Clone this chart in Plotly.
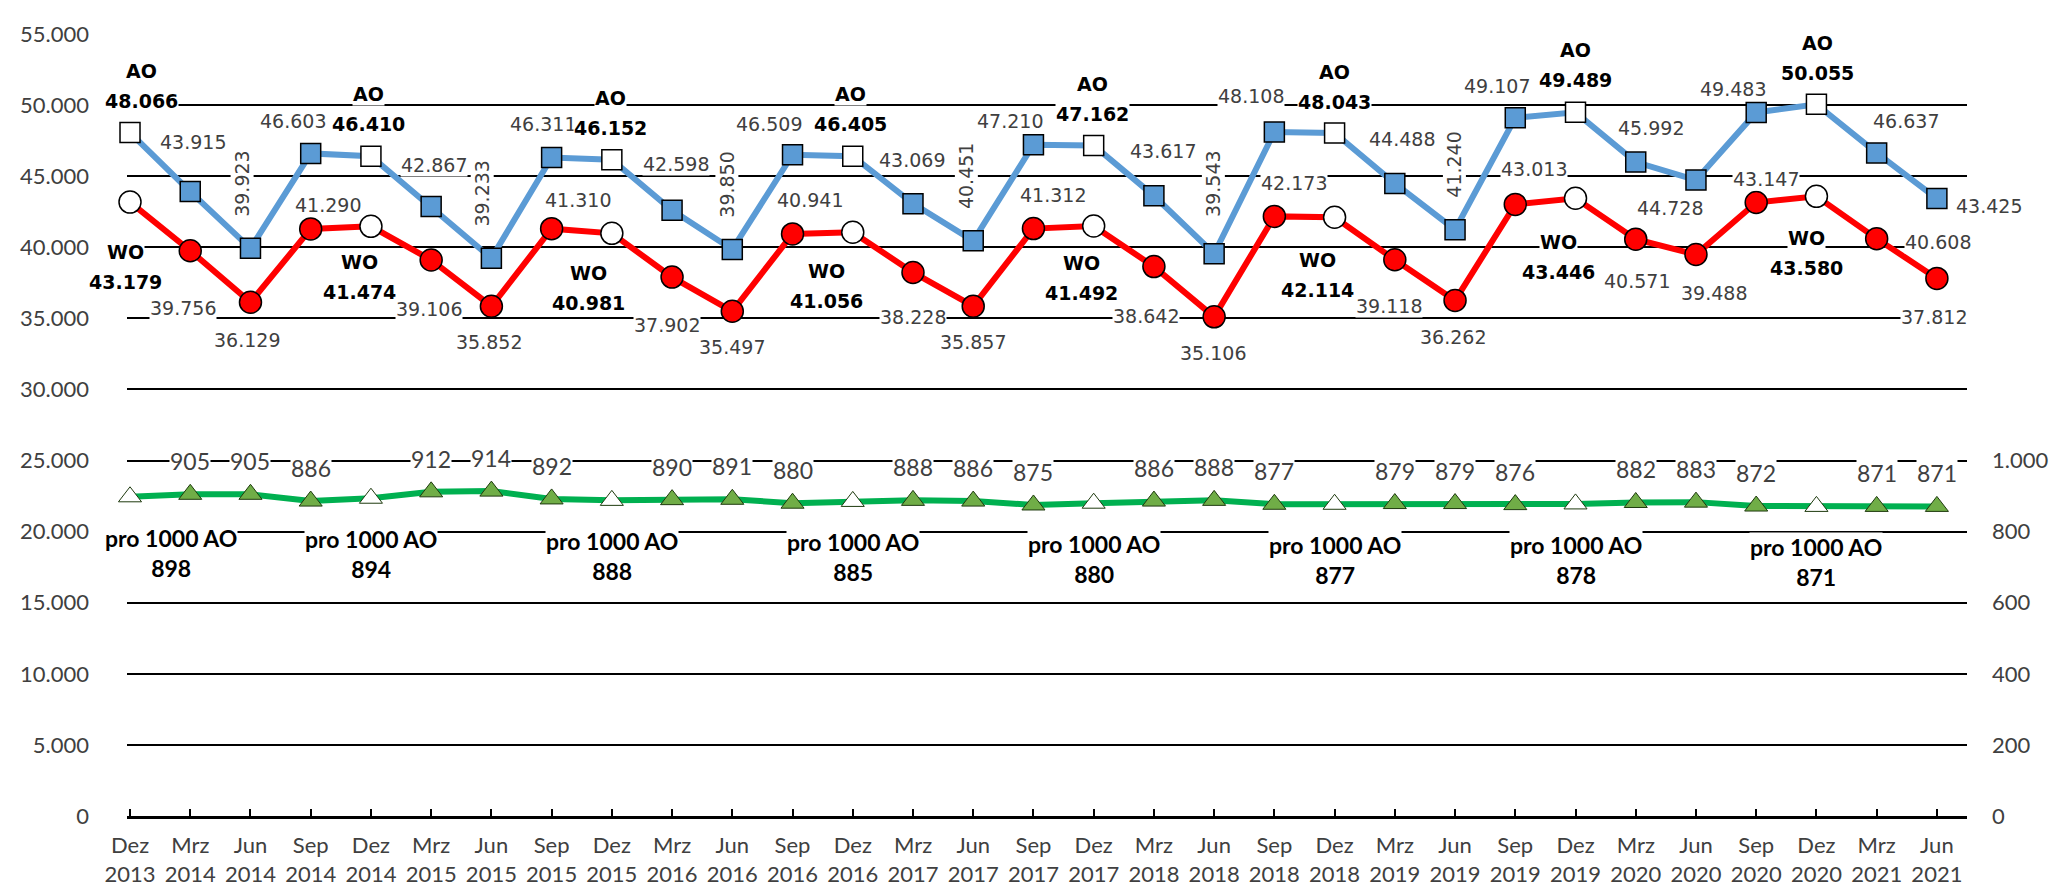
import plotly.graph_objects as go

# ---------------- data ----------------
quarters = ["Dez 2013", "Mrz 2014", "Jun 2014", "Sep 2014", "Dez 2014", "Mrz 2015", "Jun 2015",
            "Sep 2015", "Dez 2015", "Mrz 2016", "Jun 2016", "Sep 2016", "Dez 2016", "Mrz 2017",
            "Jun 2017", "Sep 2017", "Dez 2017", "Mrz 2018", "Jun 2018", "Sep 2018", "Dez 2018",
            "Mrz 2019", "Jun 2019", "Sep 2019", "Dez 2019", "Mrz 2020", "Jun 2020", "Sep 2020",
            "Dez 2020", "Mrz 2021", "Jun 2021"]

ao = [48066, 43915, 39923, 46603, 46410, 42867, 39233, 46311, 46152, 42598, 39850, 46509,
      46405, 43069, 40451, 47210, 47162, 43617, 39543, 48108, 48043, 44488, 41240, 49107,
      49489, 45992, 44728, 49483, 50055, 46637, 43425]

wo = [43179, 39756, 36129, 41290, 41474, 39106, 35852, 41310, 40981, 37902, 35497, 40941,
      41056, 38228, 35857, 41312, 41492, 38642, 35106, 42173, 42114, 39118, 36262, 43013,
      43446, 40571, 39488, 43147, 43580, 40608, 37812]

pro1000 = [898, 905, 905, 886, 894, 912, 914, 892, 888, 890, 891, 880, 885, 888, 886, 875,
           880, 886, 888, 877, 877, 879, 879, 876, 878, 882, 883, 872, 871, 871, 871]

left_ticks = [0, 5000, 10000, 15000, 20000, 25000, 30000, 35000, 40000, 45000, 50000, 55000]
right_ticks = [0, 200, 400, 600, 800, 1000]

# ---------------- label placement (pixel offsets dx, dy; dy positive = down) ----------------
ao_off = [(11, -47), (3, -50), (-8, -65), (-18, -32), (-2, -47), (3, -42), (-9, -65),
          (-9, -34), (-1, -47), (4, -46), (-5, -65), (-24, -31), (-2, -47), (-1, -44),
          (-7, -65), (-23, -24), (-1, -46), (9, -45), (-1, -70), (-23, -36), (0, -46),
          (7, -44), (-1, -65), (-18, -32), (0, -47), (15, -34), (-26, 28), (-23, -23),
          (1, -46), (29, -32), (52, 7)]
ao_rot = {2, 6, 10, 14, 18, 22}

wo_off = [(-5, 65), (-7, 57), (-3, 38), (17, -24), (-11, 51), (-2, 49), (-2, 36),
          (26, -29), (-23, 55), (-5, 48), (0, 36), (17, -34), (-26, 54), (0, 45),
          (0, 36), (20, -34), (-12, 52), (-8, 49), (-1, 36), (20, -33), (-17, 58),
          (-6, 46), (-2, 37), (19, -35), (-17, 59), (1, 42), (18, 38), (10, -24),
          (-10, 57), (61, 3), (-3, 39)]

LINE_GAP = 15  # half distance between the two lines of a bold Dez label

BLUE = "#5B9BD5"
RED = "#FF0000"
GREEN_LINE = "#00B050"
GREEN_FILL = "#70AD47"
LABEL_GRAY = "#404040"


def fmt(v):
    return f"{v:,}".replace(",", ".")


def is_dez(q):
    return q.startswith("Dez")


fig = go.Figure()

ao_fill = ["white" if is_dez(q) else BLUE for q in quarters]
wo_fill = ["white" if is_dez(q) else RED for q in quarters]
gr_fill = ["white" if is_dez(q) else GREEN_FILL for q in quarters]

fig.add_trace(go.Scatter(
    x=quarters, y=ao, mode="lines+markers", name="AO",
    line=dict(color=BLUE, width=6),
    marker=dict(symbol="square", size=20, color=ao_fill, line=dict(color="black", width=1.5)),
    cliponaxis=False))

fig.add_trace(go.Scatter(
    x=quarters, y=wo, mode="lines+markers", name="WO",
    line=dict(color=RED, width=6),
    marker=dict(symbol="circle", size=22, color=wo_fill, line=dict(color="black", width=1.5)),
    cliponaxis=False))

fig.add_trace(go.Scatter(
    x=quarters, y=pro1000, mode="lines+markers", name="pro 1000 AO", yaxis="y2",
    line=dict(color=GREEN_LINE, width=6),
    marker=dict(symbol="triangle-up", size=20, color=gr_fill, line=dict(color="#1E3A0E", width=1)),
    cliponaxis=False))

ann = []
DL_FONT = "DejaVu Sans"
CAL_FONT = "Lato"


def add_label(q, v, yref, dx, dy, txt, col, family, size, angle=0):
    ann.append(dict(x=q, y=v, xref="x", yref=yref, text=txt, showarrow=False,
                    xshift=dx, yshift=-dy, textangle=angle,
                    font=dict(family=family, size=size, color=col),
                    bgcolor="white", borderpad=0))


for series, name, offs in ((ao, "AO", ao_off), (wo, "WO", wo_off)):
    for i, q in enumerate(quarters):
        dx, dy = offs[i]
        if is_dez(q):
            add_label(q, series[i], "y", dx, dy - LINE_GAP, f"<b>{name}</b>", "black", DL_FONT, 19)
            add_label(q, series[i], "y", dx, dy + LINE_GAP, f"<b>{fmt(series[i])}</b>", "black", DL_FONT, 19)
        else:
            angle = -90 if (name == "AO" and i in ao_rot) else 0
            add_label(q, series[i], "y", dx, dy, fmt(series[i]), LABEL_GRAY, DL_FONT, 19, angle)

for i, q in enumerate(quarters):
    if is_dez(q):
        dx, dy = (41 if i == 0 else 0), 56
        add_label(q, pro1000[i], "y2", dx, dy, f"<b>pro 1000 AO<br>{fmt(pro1000[i])}</b>",
                  "black", CAL_FONT, 23)
    else:
        add_label(q, pro1000[i], "y2", 0, -33, fmt(pro1000[i]), LABEL_GRAY, CAL_FONT, 23)

TICK_FONT = dict(family=CAL_FONT, size=22, color=LABEL_GRAY)

fig.update_layout(
    width=2060, height=891,
    margin=dict(l=117, r=101, t=18, b=73),
    paper_bgcolor="white", plot_bgcolor="white",
    separators=",.",
    showlegend=False,
    annotations=ann,
    xaxis=dict(
        type="category", range=[-0.05, 30.5],
        tickvals=quarters, ticktext=[q.replace(" ", "<br>") for q in quarters],
        tickfont=TICK_FONT, ticks="inside", ticklen=7, tickwidth=2, tickcolor="black",
        showline=True, linecolor="black", linewidth=3, showgrid=False,
        ticklabelstandoff=8,
    ),
    yaxis=dict(
        range=[0, 55000], tickvals=left_ticks, tickformat=",d",
        tickfont=TICK_FONT, showgrid=True, gridcolor="black", gridwidth=2,
        zeroline=False, showline=False, ticks="", ticklabelstandoff=37,
    ),
    yaxis2=dict(
        range=[0, 2200], tickvals=right_ticks, tickformat=",d", overlaying="y", side="right",
        tickfont=TICK_FONT, showgrid=False, zeroline=False, showline=False, ticks="",
        ticklabelstandoff=24,
    ),
)

fig.write_html("out.html")
